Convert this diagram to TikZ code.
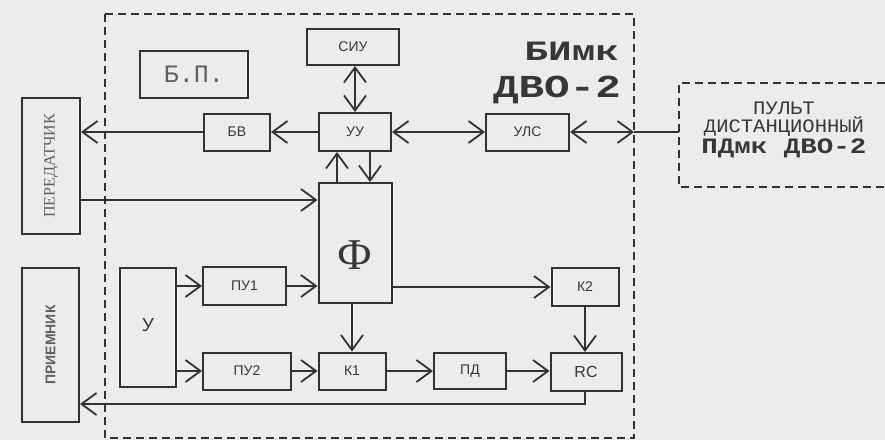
\documentclass[tikz,border=0pt]{standalone}
\usepackage{fontspec}
\setmainfont{Liberation Sans}
\newfontfamily\serifrm{Liberation Serif}
\newfontfamily\monorm{Liberation Mono}
\newfontfamily\monoA{Liberation Mono}[FakeStretch=1.4]
\newfontfamily\monoB{Liberation Mono}[FakeStretch=1.33]
\newfontfamily\monoC{Liberation Mono}[FakeStretch=1.25]
\newfontfamily\monoD{Liberation Mono}[FakeStretch=1.08]
\usetikzlibrary{arrows.meta}
\definecolor{bg}{RGB}{236,236,236}
\definecolor{ln}{RGB}{50,50,50}
\definecolor{txt}{RGB}{55,55,55}
\definecolor{faded}{RGB}{95,95,95}
\tikzset{
  box/.style={draw=ln, line width=2pt, inner sep=0pt, text=txt,
    font=\fontsize{14}{16}\selectfont},
  tip/.tip={Straight Barb[length=15pt,width=22pt]},
  arr/.style={-tip, draw=ln, line width=1.8pt},
  darr/.style={tip-tip, draw=ln, line width=1.8pt},
  wire/.style={draw=ln, line width=1.8pt},
  frame/.style={draw=ln, line width=1.8pt, dash pattern=on 8pt off 5pt}
}
\begin{document}
\begin{tikzpicture}[x=1pt,y=-1pt]
\useasboundingbox (0,0) rectangle (885,440);
\fill[bg] (0,0) rectangle (885,440);
% outer dashed frame
\draw[frame] (105,14) rectangle (634,438);
% remote panel frame (open to the right)
\draw[frame] (885,83) -- (679,83) -- (679,187) -- (885,187);
\coordinate (pultW) at (679,132);
\coordinate (bord) at (634,132);
\node[align=center, text=txt, inner sep=0pt] (pult) at (784,130)
  {{\monoD\fontsize{19}{23}\selectfont ПУЛЬТ}\\[1pt]
   {\monoD\fontsize{19}{23}\selectfont ДИСТАНЦИОННЫЙ}\\[2pt]
   {\monoC\bfseries\fontsize{22}{24}\selectfont ПДмк ДВО-2}};
% title
\node[anchor=base east, inner sep=0pt, text=txt, font=\monoA\bfseries\fontsize{28}{30}\selectfont] (t1) at (619,60) {БИмк};
\node[anchor=base east, inner sep=0pt, text=txt, font=\monoB\bfseries\fontsize{32}{34}\selectfont] (t2) at (621,97) {ДВО-2};
% boxes
\node[box, minimum width=92pt, minimum height=36pt] (siu) at (353,47) {СИУ};
\node[box, minimum width=108pt, minimum height=47pt, text=faded, font=\monorm\fontsize{25}{28}\selectfont] (bp) at (194,74.5) {Б.П.};
\node[box, minimum width=58pt, minimum height=136pt, text=faded, font=\serifrm\fontsize{16}{18}\selectfont] (per) at (51,166) {\rotatebox{90}{ПЕРЕДАТЧИК}};
\node[box, minimum width=57pt, minimum height=154pt, text=faded, font=\bfseries\fontsize{14}{16}\selectfont] (pri) at (50.5,345) {\rotatebox{90}{ПРИЕМНИК}};
\node[box, minimum width=66pt, minimum height=37pt] (bv) at (237,132) {БВ};
\node[box, minimum width=72pt, minimum height=38pt] (uu) at (355,132) {УУ};
\node[box, minimum width=83pt, minimum height=37pt] (uls) at (527.5,132) {УЛС};
\node[box, minimum width=73pt, minimum height=120pt,
  label={[font=\serifrm\fontsize{44}{50}\selectfont, text=txt, anchor=center, yshift=-12pt]center:Ф}] (f) at (355,243) {};
\node[box, minimum width=56pt, minimum height=119pt, font=\fontsize{19}{21}\selectfont] (u) at (148,327.5) {\raisebox{6pt}{У}};
\node[box, minimum width=83pt, minimum height=38pt] (pu1) at (244.5,286) {ПУ1};
\node[box, minimum width=88pt, minimum height=37pt] (pu2) at (247,371) {ПУ2};
\node[box, minimum width=67pt, minimum height=37pt] (k1) at (352,371) {К1};
\node[box, minimum width=72pt, minimum height=36pt] (pd) at (470,371) {ПД};
\node[box, minimum width=67pt, minimum height=38pt] (k2) at (585,287) {К2};
\node[box, minimum width=71pt, minimum height=38pt, font=\fontsize{16}{18}\selectfont] (rc) at (586,372) {RC};
% helper coordinates
\coordinate (pin) at (79,200);
\coordinate (rcb) at (585,404);
% connectors
\draw[darr] (siu.south -| uu.north) -- (uu.north);
\draw[arr] (uu.west) -- (bv.east);
\draw[arr] (bv.west) -- (per.east |- bv.west);
\draw[darr] (uu.east) -- (uls.west);
\draw[darr] (uls.east) -- (bord);
\draw[wire] (bord) -- (pultW);
\draw[arr] ([xshift=-18pt]f.north) -- ([xshift=-18pt]uu.south);
\draw[arr] ([xshift=15pt]uu.south) -- ([xshift=15pt]f.north);
\draw[arr] (per.east |- pin) -- (f.west |- pin);
\draw[arr] (u.east |- pu1.west) -- (pu1.west);
\draw[arr] (u.east |- pu2.west) -- (pu2.west);
\draw[arr] (pu1.east) -- (f.west |- pu1.east);
\draw[arr] (pu2.east) -- (k1.west |- pu2.east);
\draw[arr] (f.south -| k1.north) -- (k1.north);
\draw[arr] (k1.east) -- (pd.west |- k1.east);
\draw[arr] (pd.east) -- (rc.west |- pd.east);
\draw[arr] (f.east |- k2.west) -- (k2.west);
\draw[arr] (k2.south) -- (k2.south |- rc.north);
\draw[arr] (rc.south -| rcb) -- (rcb) -- (pri.east |- rcb);
\end{tikzpicture}
\end{document}
